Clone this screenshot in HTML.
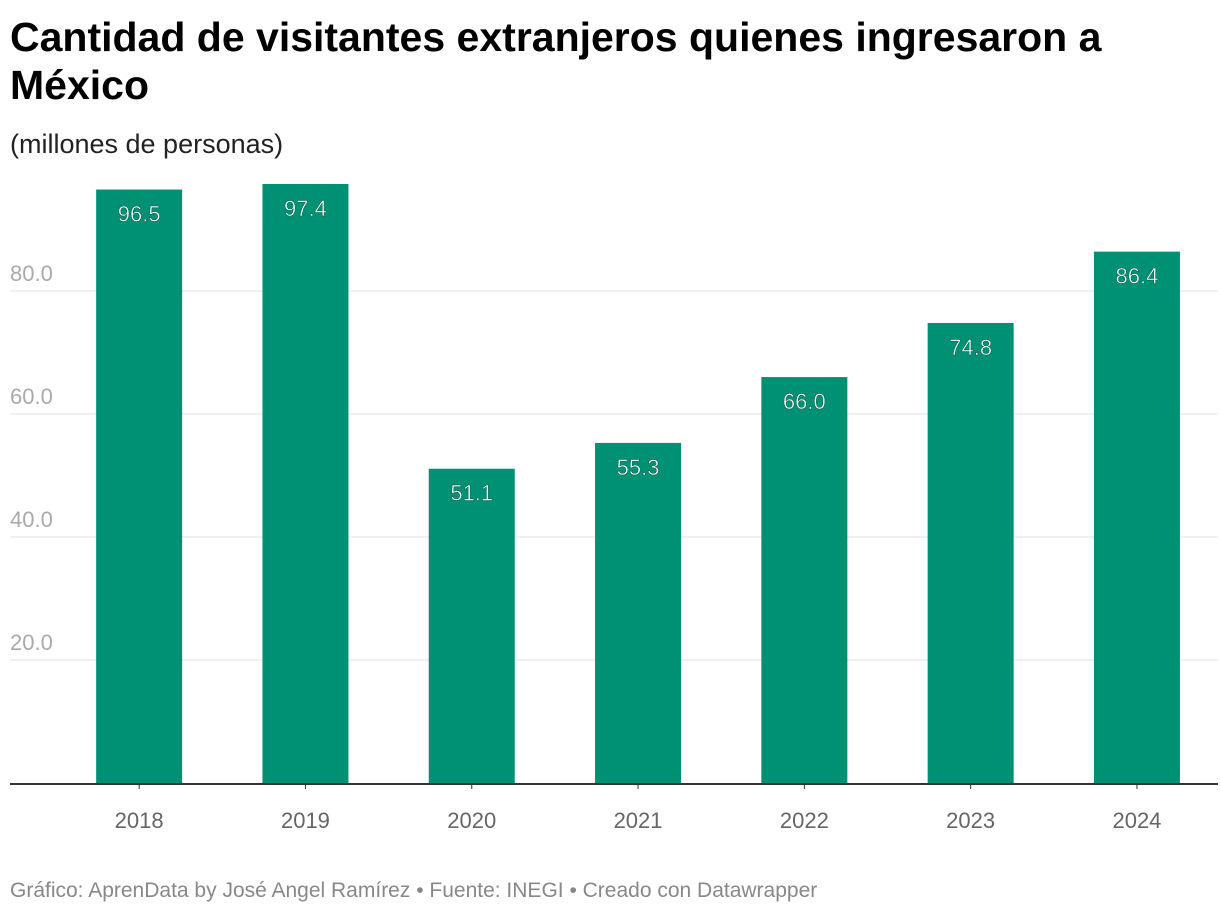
<!DOCTYPE html>
<html><head><meta charset="utf-8"><style>
body{margin:0;background:#fff;width:1220px;height:916px;overflow:hidden;font-family:"Liberation Sans",sans-serif}
h1{position:absolute;left:10px;top:13px;margin:0;font-size:41px;line-height:48px;font-weight:bold;color:#000;width:1130px;letter-spacing:0px}
.sub{position:absolute;left:10px;top:129px;font-size:27px;color:#222}
.foot{position:absolute;left:10px;top:879px;font-size:21px;color:#888}
svg{position:absolute;left:0;top:0}
</style></head><body>
<h1>Cantidad de visitantes extranjeros quienes ingresaron a México</h1>
<div class="sub">(millones de personas)</div>
<svg id="c" width="1220" height="916"></svg>
<div class="foot">Gráfico: AprenData by José Angel Ramírez • Fuente: INEGI • Creado con Datawrapper</div>
<script>
const categories=["2018","2019","2020","2021","2022","2023","2024"];
const values=[96.5,97.4,51.1,55.3,66.0,74.8,86.4];
const ticks=[20,40,60,80];
const tickLabels=["20.0","40.0","60.0","80.0"];
const svg=document.getElementById('c');
const NS='http://www.w3.org/2000/svg';
const y0=783,ppu=6.15;
const y=v=>y0-v*ppu;
const bandStart=56,step=166.3,bw=86;
const xc=i=>bandStart+step*i+step/2;
function mk(t,a,txt){const e=document.createElementNS(NS,t);for(const k in a)e.setAttribute(k,a[k]);if(txt!=null)e.textContent=txt;svg.appendChild(e);return e;}
ticks.forEach((t,i)=>{
 const g=mk('line',{x1:10,x2:1218,y1:y(t),y2:y(t),stroke:'#e0e0e0','stroke-width':1});
 
 
 const l=mk('text',{x:10,y:y(t)-10,'font-size':22,fill:'#aaa'},tickLabels[i]);
 
 
});
values.forEach((v,i)=>{
 const r=mk('rect',{x:xc(i)-bw/2,y:y(v),width:bw,height:y0-y(v),fill:'#009074'});
 
 
 const t=mk('text',{x:xc(i),y:y(v)+32,'font-size':22,fill:'#fff','text-anchor':'middle',stroke:'#005a4a','stroke-width':0.5},v.toFixed(1));
 
 
 const tk=mk('line',{x1:xc(i),x2:xc(i),y1:y0,y2:y0+6,stroke:'#333','stroke-width':1});
 
 
 const xl=mk('text',{x:xc(i),y:828,'font-size':22,fill:'#666','text-anchor':'middle'},categories[i]);
 
 
});
const ax=mk('line',{x1:10,x2:1218,y1:y0+1,y2:y0+1,stroke:'#333','stroke-width':2});


</script>
</body></html>
